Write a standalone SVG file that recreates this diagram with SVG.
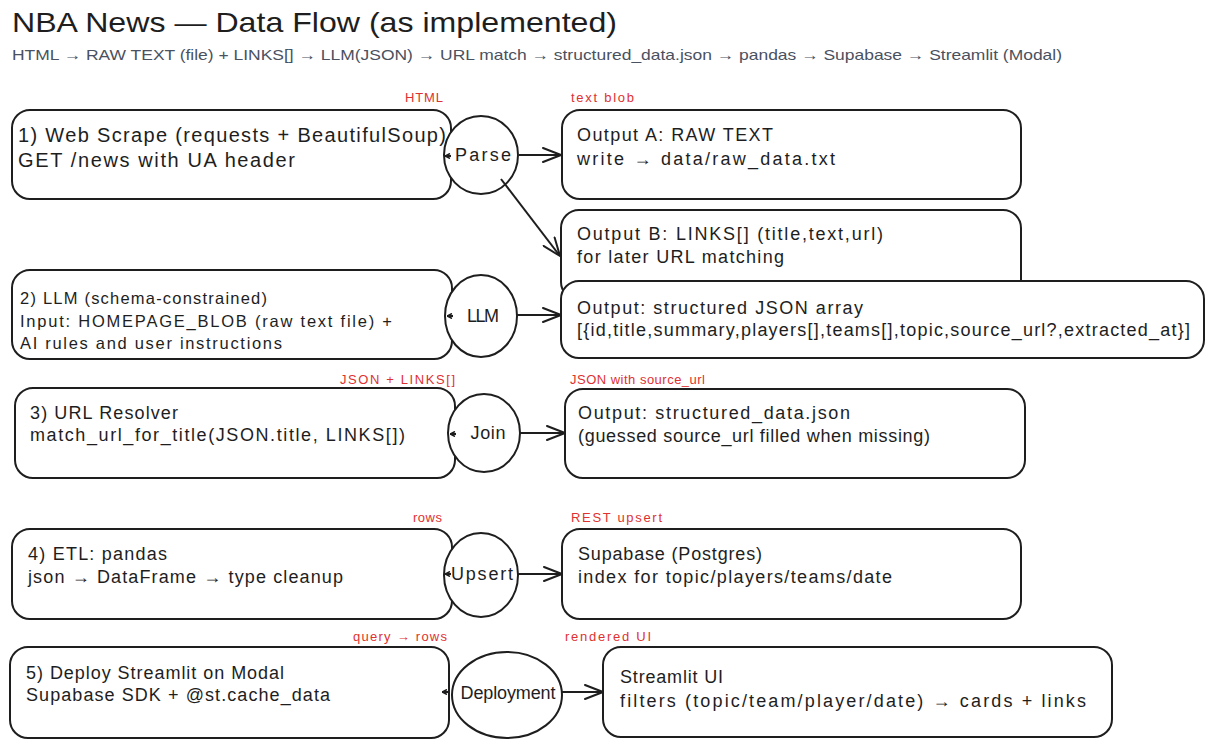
<svg xmlns="http://www.w3.org/2000/svg" width="1221" height="747" viewBox="0 0 1221 747">
<style>
.box{fill:#fff;stroke:#1e1e1e;stroke-width:2}
.node{fill:#fff;stroke:#1e1e1e;stroke-width:2}
.t{font-family:'Liberation Sans',Arial,sans-serif;fill:#1e1e1e}
.b{font-size:18px}
.b2{font-size:16.5px}
.c{font-size:18px;text-anchor:middle}
.lbl{font-family:'Liberation Sans',Arial,sans-serif;fill:#e03131;font-size:13px}
.edge{fill:none;stroke:#1e1e1e;stroke-width:2}
</style>
<defs>
<marker id="ah" viewBox="0 0 20 16" refX="19" refY="8" markerWidth="20" markerHeight="16" markerUnits="userSpaceOnUse" orient="auto">
<path d="M1,1 L19,8 L1,15" fill="none" stroke="#1e1e1e" stroke-width="2" stroke-linecap="round" stroke-linejoin="round"/>
</marker>
<marker id="sm" viewBox="0 0 6 6" refX="5.5" refY="3" markerWidth="6" markerHeight="6" markerUnits="userSpaceOnUse" orient="auto">
<path d="M0.5,0.5 L5.5,3 L0.5,5.5" fill="none" stroke="#1e1e1e" stroke-width="1.5"/>
</marker>
</defs>
<rect width="1221" height="747" fill="#fff"/>

<g id="title">
<text class="t" x="12" y="32" font-size="28" textLength="605" lengthAdjust="spacingAndGlyphs">NBA News — Data Flow (as implemented)</text>
<text x="12" y="60" font-family="'Liberation Sans',Arial,sans-serif" font-size="15" fill="#4a5160" textLength="1050" lengthAdjust="spacingAndGlyphs">HTML → RAW TEXT (file)  + LINKS[]  →  LLM(JSON)  → URL match  → structured_data.json → pandas → Supabase → Streamlit (Modal)</text>
</g>

<g id="edge-labels">
<text class="lbl" x="405" y="102" textLength="38">HTML</text>
<text class="lbl" x="571" y="102" textLength="63">text blob</text>
<text class="lbl" x="340" y="384" textLength="115">JSON + LINKS[]</text>
<text class="lbl" x="570" y="384" textLength="135">JSON with source_url</text>
<text class="lbl" x="413" y="522" textLength="29">rows</text>
<text class="lbl" x="571" y="522" textLength="91">REST upsert</text>
<text class="lbl" x="353" y="641" textLength="94">query → rows</text>
<text class="lbl" x="565" y="641" textLength="86">rendered UI</text>
</g>

<g id="scrape">
<rect class="box" x="12" y="110" width="439" height="89" rx="18"/>
<text class="t" x="18" y="142" font-size="20" textLength="428">1) Web Scrape (requests + BeautifulSoup)</text>
<text class="t" x="18" y="167" font-size="20" textLength="277">GET /news with UA header</text>
</g>

<g id="outA">
<rect class="box" x="562" y="110" width="459" height="89" rx="18"/>
<text class="t b" x="577" y="141" textLength="196">Output A: RAW TEXT</text>
<text class="t b" x="577" y="165" textLength="258">write → data/raw_data.txt</text>
</g>

<g id="outB">
<rect class="box" x="561" y="210" width="460" height="90" rx="18"/>
<text class="t b" x="577" y="240" textLength="306">Output B: LINKS[] (title,text,url)</text>
<text class="t b" x="577" y="263" textLength="207">for later URL matching</text>
</g>

<g id="structured">
<rect class="box" x="561" y="281" width="643" height="77" rx="18"/>
<text class="t b" x="577" y="314" textLength="286">Output: structured JSON array</text>
<text class="t b" x="577" y="336" textLength="613">[{id,title,summary,players[],teams[],topic,source_url?,extracted_at}]</text>
</g>

<g id="llm">
<rect class="box" x="12" y="270" width="440" height="89" rx="18"/>
<text class="t b2" x="20" y="304" textLength="247">2) LLM (schema-constrained)</text>
<text class="t b2" x="20" y="327" textLength="372">Input: HOMEPAGE_BLOB (raw text file) +</text>
<text class="t b2" x="20" y="349" textLength="262">AI rules and user instructions</text>
</g>

<g id="resolver">
<rect class="box" x="15" y="388" width="440" height="90" rx="18"/>
<text class="t b" x="30" y="419" textLength="148">3) URL Resolver</text>
<text class="t b" x="30" y="441" textLength="375">match_url_for_title(JSON.title, LINKS[])</text>
</g>

<g id="outJson">
<rect class="box" x="565" y="389" width="460" height="89" rx="18"/>
<text class="t b" x="578" y="419" textLength="272">Output: structured_data.json</text>
<text class="t b" x="578" y="442" textLength="352">(guessed source_url filled when missing)</text>
</g>

<g id="etl">
<rect class="box" x="12" y="529" width="440" height="90" rx="18"/>
<text class="t b" x="28" y="560" textLength="139">4) ETL: pandas</text>
<text class="t b" x="28" y="583" textLength="315">json → DataFrame → type cleanup</text>
</g>

<g id="supabase">
<rect class="box" x="562" y="529" width="459" height="90" rx="18"/>
<text class="t b" x="578" y="560" textLength="184">Supabase (Postgres)</text>
<text class="t b" x="578" y="583" textLength="314">index for topic/players/teams/date</text>
</g>

<g id="deploy">
<rect class="box" x="10" y="647" width="439" height="91" rx="18"/>
<text class="t b" x="26" y="679" textLength="258">5) Deploy Streamlit on Modal</text>
<text class="t b" x="26" y="701" textLength="304">Supabase SDK + @st.cache_data</text>
</g>

<g id="streamlit">
<rect class="box" x="603" y="647" width="509" height="90" rx="18"/>
<text class="t b" x="620" y="683" textLength="103">Streamlit UI</text>
<text class="t b" x="620" y="707" textLength="466">filters (topic/team/player/date) → cards + links</text>
</g>

<g id="parse">
<ellipse class="node" cx="481" cy="155" rx="37" ry="39"/>
<text class="t c" x="483" y="161" textLength="56">Parse</text>
</g>
<g id="llmNode">
<ellipse class="node" cx="481" cy="316" rx="36" ry="41"/>
<text class="t c" x="483" y="322" textLength="32">LLM</text>
</g>
<g id="join">
<ellipse class="node" cx="484" cy="433" rx="36" ry="39"/>
<text class="t c" x="488" y="439" textLength="35">Join</text>
</g>
<g id="upsert">
<ellipse class="node" cx="481" cy="575" rx="37" ry="42"/>
<text class="t c" x="482" y="580" textLength="62">Upsert</text>
</g>
<g id="deployment">
<ellipse class="node" cx="507" cy="695" rx="55" ry="43"/>
<text class="t c" x="508" y="699" textLength="95">Deployment</text>
</g>

<g id="connectors">
<path class="edge" d="M519,155 L561,155" marker-end="url(#ah)"/>
<path class="edge" d="M501,179 L560,256" marker-end="url(#ah)"/>
<path class="edge" d="M517,315 L561,315" marker-end="url(#ah)"/>
<path class="edge" d="M520,433 L565,433" marker-end="url(#ah)"/>
<path class="edge" d="M518,574 L562,574" marker-end="url(#ah)"/>
<path class="edge" d="M562,692 L603,692" marker-end="url(#ah)"/>
<path class="edge" stroke-width="1.5" d="M451,156 L445,156" marker-end="url(#sm)"/>
<path class="edge" stroke-width="1.5" d="M453,316 L447,316" marker-end="url(#sm)"/>
<path class="edge" stroke-width="1.5" d="M456,434 L450,434" marker-end="url(#sm)"/>
<path class="edge" stroke-width="1.5" d="M451,574 L445,574" marker-end="url(#sm)"/>
<path class="edge" stroke-width="1.5" d="M448,692 L442,692" marker-end="url(#sm)"/>
</g>
</svg>
